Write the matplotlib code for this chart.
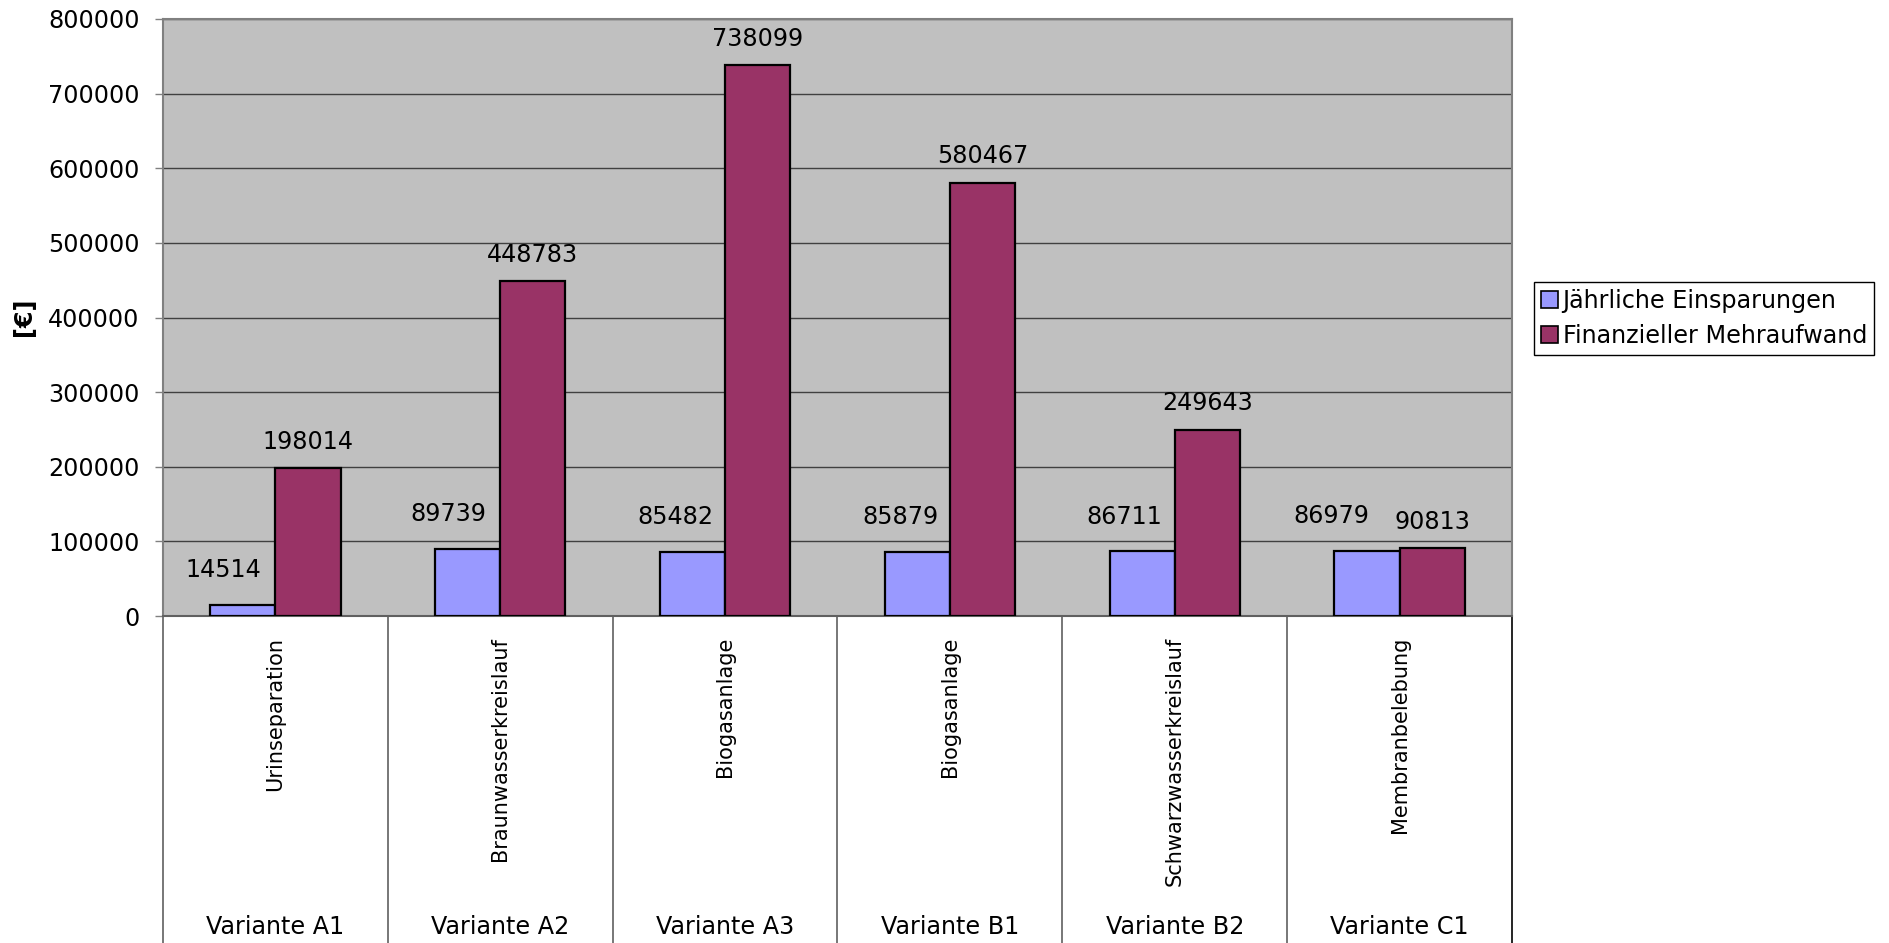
import matplotlib
matplotlib.use("Agg")
import matplotlib.pyplot as plt
import matplotlib.transforms as mtransforms
from matplotlib.patches import Patch
import numpy as np

plt.rcParams['font.family'] = ['DejaVu Sans']

variants = ['Variante A1', 'Variante A2', 'Variante A3', 'Variante B1', 'Variante B2', 'Variante C1']
measures = ['Urinseparation', 'Braunwasserkreislauf', 'Biogasanlage', 'Biogasanlage',
            'Schwarzwasserkreislauf', 'Membranbelebung']
einsparungen = [14514, 89739, 85482, 85879, 86711, 86979]
mehraufwand = [198014, 448783, 738099, 580467, 249643, 90813]
series_names = ['Jährliche Einsparungen', 'Finanzieller Mehraufwand']

W, H = 1890, 943
fig = plt.figure(figsize=(W / 100, H / 100), dpi=100)
ax_left, ax_right, ax_top, ax_bottom = 163, 1512, 19, 616
ax = fig.add_axes([ax_left / W, 1 - ax_bottom / H, (ax_right - ax_left) / W, (ax_bottom - ax_top) / H])
ax.set_facecolor('#C0C0C0')

x = np.arange(len(variants))
bw = 0.29
fs = 17.2
ax.bar(x - bw / 2, einsparungen, bw, color='#9999FF', edgecolor='black', linewidth=1.6, zorder=3)
ax.bar(x + bw / 2, mehraufwand, bw, color='#993366', edgecolor='black', linewidth=1.6, zorder=3)

ax.set_xlim(-0.5, len(variants) - 0.5)
ax.set_ylim(0, 800000)
ax.set_yticks(np.arange(0, 800001, 100000))
ax.set_yticklabels([str(v) for v in range(0, 800001, 100000)], fontsize=fs)
ax.tick_params(axis='y', length=6, width=1, color='#808080', pad=11)
ax.set_xticks([])
ax.grid(axis='y', color='#404040', linewidth=1, zorder=1)
for s in ['left', 'top', 'right']:
    ax.spines[s].set_color('#808080')
    ax.spines[s].set_linewidth(1.5)
ax.spines['bottom'].set_color('#606060')
ax.spines['bottom'].set_linewidth(1.5)

# value labels above bars
blue_shift = [-20, -19, -17, -17, -18, -36]
for i in range(len(variants)):
    ax.annotate(str(einsparungen[i]), (x[i] - bw / 2, einsparungen[i]),
                xytext=(blue_shift[i] * 0.72, 25), textcoords='offset points',
                ha='center', va='center', fontsize=fs, zorder=4)
    ax.annotate(str(mehraufwand[i]), (x[i] + bw / 2, mehraufwand[i]),
                xytext=(0, 19), textcoords='offset points',
                ha='center', va='center', fontsize=fs, zorder=4)

# category table below the axis
below = -(H - ax_bottom) / (ax_bottom - ax_top)
trans = mtransforms.blended_transform_factory(ax.transData, ax.transAxes)
for k in range(len(variants) + 1):
    ax.plot([k - 0.5, k - 0.5], [0, below], transform=trans, clip_on=False,
            color='black' if k == len(variants) else '#606060', linewidth=1.2)
for i in range(len(variants)):
    ax.text(x[i], -21 / (ax_bottom - ax_top), measures[i], transform=trans, rotation=90,
            ha='center', va='top', fontsize=15)
    ax.text(x[i], -311 / (ax_bottom - ax_top), variants[i], transform=trans,
            ha='center', va='center', fontsize=fs)

fig.text(24 / W, 1 - 317 / H, '[€]', rotation=90, ha='center', va='center',
         fontsize=fs, fontweight='bold')

handles = [Patch(facecolor='#9999FF', edgecolor='black', linewidth=1.2),
           Patch(facecolor='#993366', edgecolor='black', linewidth=1.2)]
leg = fig.legend(handles, series_names, loc='upper left',
                 bbox_to_anchor=(1534 / W, 1 - 282 / H), fontsize=fs,
                 handlelength=0.7, handleheight=0.7, handletextpad=0.2,
                 borderpad=0.3, labelspacing=0.45, borderaxespad=0,
                 fancybox=False, framealpha=1, edgecolor='black')
leg.get_frame().set_linewidth(1)

fig.savefig('out.png', dpi=100)
